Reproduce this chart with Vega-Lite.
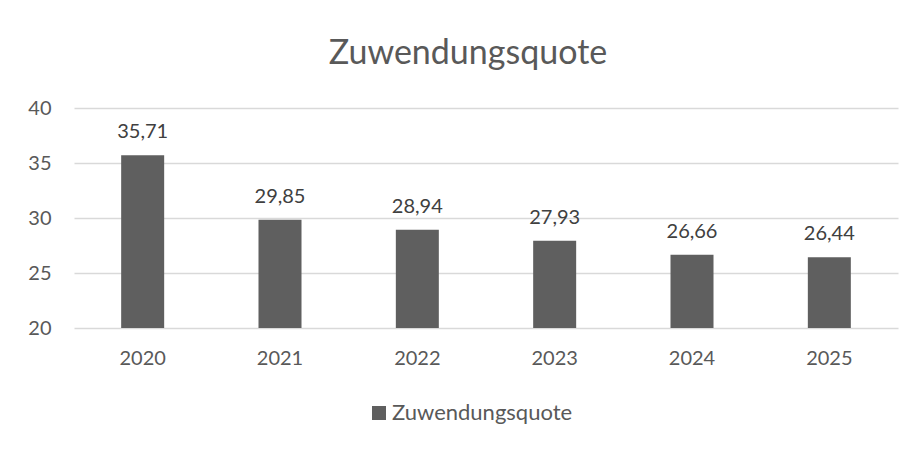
{
  "$schema": "https://vega.github.io/schema/vega-lite/v6.json",
  "autosize": "none",
  "width": 824,
  "height": 220,
  "padding": {"left": 74, "top": 108, "right": 20, "bottom": 122},
  "background": "white",
  "config": {
    "font": "Lato",
    "view": {"stroke": null},
    "locale": {"number": {"decimal": ",", "thousands": ".", "grouping": [3], "currency": ["", " €"]}}
  },
  "title": {
    "text": "Zuwendungsquote",
    "anchor": "middle",
    "frame": "group",
    "dx": -18,
    "offset": 0,
    "baseline": "alphabetic",
    "font": "Lato",
    "fontSize": 34,
    "fontWeight": "normal",
    "color": "#595959"
  },
  "data": {
    "values": [
      {"Jahr": "2020", "Wert": 35.71, "Reihe": "Zuwendungsquote"},
      {"Jahr": "2021", "Wert": 29.85, "Reihe": "Zuwendungsquote"},
      {"Jahr": "2022", "Wert": 28.94, "Reihe": "Zuwendungsquote"},
      {"Jahr": "2023", "Wert": 27.93, "Reihe": "Zuwendungsquote"},
      {"Jahr": "2024", "Wert": 26.66, "Reihe": "Zuwendungsquote"},
      {"Jahr": "2025", "Wert": 26.44, "Reihe": "Zuwendungsquote"}
    ]
  },
  "encoding": {
    "x": {
      "field": "Jahr",
      "type": "ordinal",
      "scale": {"paddingInner": 0, "paddingOuter": 0},
      "axis": {
        "title": null,
        "labelAngle": 0,
        "labelFontSize": 20,
        "labelColor": "#595959",
        "labelPadding": 20,
        "ticks": false,
        "domain": false,
        "grid": false
      }
    }
  },
  "layer": [
    {
      "mark": {"type": "bar", "size": 43},
      "encoding": {
        "y": {
          "field": "Wert",
          "type": "quantitative",
          "scale": {"domain": [20, 40], "zero": false, "nice": false},
          "axis": {
            "title": null,
            "values": [20, 25, 30, 35, 40],
            "labelFontSize": 20,
            "labelColor": "#595959",
            "labelPadding": 23,
            "ticks": false,
            "domain": false,
            "grid": true,
            "gridColor": "#d9d9d9",
            "gridWidth": 1.5
          }
        },
        "y2": {"datum": 20},
        "color": {
          "field": "Reihe",
          "type": "nominal",
          "scale": {"range": ["#5f5f5f"]},
          "legend": {
            "title": null,
            "orient": "none",
            "legendX": 294,
            "legendY": 294,
            "symbolType": "square",
            "symbolSize": 196,
            "symbolStrokeWidth": 0,
            "labelFontSize": 22,
            "labelColor": "#595959",
            "labelOffset": 2,
            "labelLimit": 400
          }
        }
      }
    },
    {
      "mark": {"type": "text", "baseline": "alphabetic", "dy": -17, "fontSize": 20, "color": "#404040"},
      "encoding": {
        "y": {"field": "Wert", "type": "quantitative"},
        "text": {"field": "Wert", "type": "quantitative", "format": ".2f"}
      }
    }
  ]
}
